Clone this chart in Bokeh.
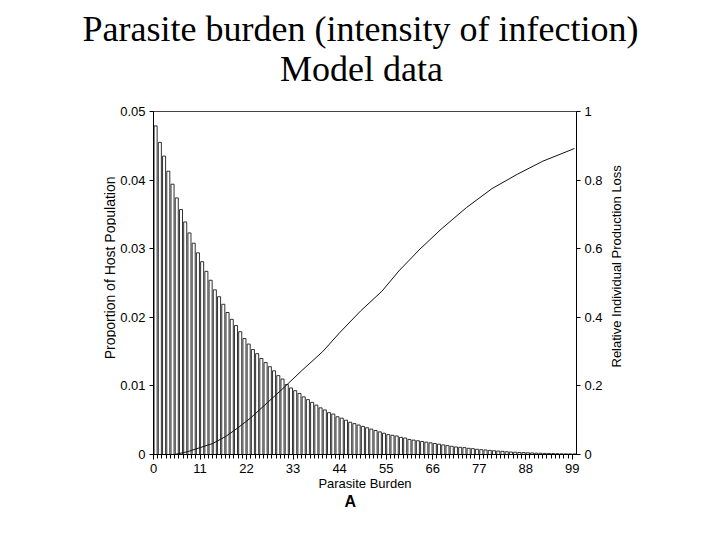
import math
from bokeh.plotting import figure
from bokeh.layouts import column, row
from bokeh.models import (Range1d, LinearAxis, FixedTicker, NumeralTickFormatter,
                          Title, ColumnDataSource)
from bokeh.core.properties import value
from bokeh.embed import file_html
from bokeh.resources import INLINE

# ---- data ----
burden = list(range(100))
proportion = [
    0.0479, 0.0455, 0.0435, 0.0413, 0.0394, 0.0374, 0.0357, 0.0339, 0.0323, 0.0308,
    0.0294, 0.0281, 0.0267, 0.0254, 0.0240, 0.0230, 0.0219, 0.0207, 0.0197, 0.0188,
    0.0179, 0.0169, 0.0161, 0.0153, 0.0147, 0.0140, 0.0134, 0.0128, 0.0122, 0.0115,
    0.0110, 0.0102, 0.0097, 0.0093, 0.0089, 0.0084, 0.0080, 0.0076, 0.0072, 0.0068,
    0.0065, 0.0061, 0.0059, 0.0055, 0.0053, 0.0050, 0.0047, 0.0045, 0.0043, 0.0041,
    0.0039, 0.0037, 0.0035, 0.0033, 0.0031, 0.0029, 0.0028, 0.0027, 0.0025, 0.0024,
    0.0022, 0.0021, 0.0020, 0.0019, 0.0018, 0.0017, 0.0016, 0.0015, 0.0014, 0.0013,
    0.0012, 0.0011, 0.00105, 0.0010, 0.0009, 0.00085, 0.00076, 0.0007, 0.00066, 0.0006,
    0.00055, 0.0005, 0.00046, 0.0004, 0.00036, 0.00033, 0.0003, 0.00028, 0.00025, 0.00023,
    0.0002, 0.00018, 0.00016, 0.00015, 0.00013, 0.00012, 0.0001, 0.0001, 0.00009, 0.00008,
]
loss_burden = [5, 8, 11, 14, 17, 20, 23, 27, 31, 35, 40, 44, 49, 54, 58, 63, 68, 74, 80, 86, 92, 99.5]
loss = [0.0, 0.008, 0.02, 0.032, 0.052, 0.078, 0.107, 0.152, 0.197, 0.244, 0.30, 0.355,
        0.419, 0.476, 0.535, 0.599, 0.657, 0.720, 0.775, 0.817, 0.855, 0.892]

x_ticks = [0, 11, 22, 33, 44, 55, 66, 77, 88, 99]
left_ticks = [0, 0.01, 0.02, 0.03, 0.04, 0.05]
right_ticks = [0, 0.2, 0.4, 0.6, 0.8, 1]

title_lines = ["Parasite burden (intensity of infection)", "Model data"]
left_label = "Proportion of Host Population"
right_label = "Relative Individual Production Loss"
x_label = "Parasite Burden"
panel_letter = "A"

SANS = "Liberation Sans"
SERIF = "Liberation Serif"


def text_panel(w, h):
    """A blank figure whose frame fills it, in pixel units (y downward)."""
    f = figure(width=w, height=h, output_backend="svg", toolbar_location=None,
               x_range=Range1d(0, w), y_range=Range1d(h, 0),
               x_axis_location=None, y_axis_location=None,
               min_border=0, min_border_left=0, min_border_right=0,
               min_border_top=0, min_border_bottom=0)
    f.title = None
    f.outline_line_color = None
    f.xgrid.visible = False
    f.ygrid.visible = False
    f.background_fill_color = "white"
    f.border_fill_color = "white"
    return f


# ---- title panel ----
tp = text_panel(712, 100)
tp.text(x=[360, 361], y=[28, 68], text=title_lines,
        text_font=value(SERIF), text_font_size="36px", text_color="black",
        text_align="center", text_baseline="middle")

# ---- left label panel ----
lp = text_panel(116, 432)
lp.text(x=[109], y=[197], text=[left_label], angle=math.pi / 2,
        text_font=value(SANS), text_font_size="14px", text_color="black",
        text_align="center", text_baseline="middle")

# ---- right label panel ----
rp = text_panel(106, 432)
rp.text(x=[10], y=[195], text=[right_label], angle=math.pi / 2,
        text_font=value(SANS), text_font_size="13px", text_color="black",
        text_align="center", text_baseline="middle")

# ---- main chart ----
p = figure(width=490, height=432, output_backend="svg", toolbar_location=None,
           x_range=Range1d(0, 100), y_range=Range1d(0, 0.05),
           min_border_left=37, min_border_right=30, min_border_top=11,
           min_border_bottom=78)
p.title = None
p.background_fill_color = "white"
p.border_fill_color = "white"
p.outline_line_color = "#444444"
p.outline_line_width = 1
p.xgrid.visible = False
p.ygrid.visible = False

p.extra_y_ranges = {"loss": Range1d(0, 1)}

src = ColumnDataSource(dict(x=[b + 0.5 for b in burden], top=proportion))
p.vbar(x="x", top="top", bottom=0, width=0.72, source=src,
       fill_color="white", line_color="#1a1a1a", line_width=0.9)

p.line(loss_burden, loss, y_range_name="loss", line_color="#111111", line_width=1)


def style_axis(ax, tick_out, label_standoff_ticks):
    ax.major_label_text_font = SANS
    ax.major_label_text_font_size = "13px"
    ax.major_label_text_color = "black"
    ax.major_label_standoff = label_standoff_ticks
    ax.major_tick_out = tick_out
    ax.major_tick_in = 0
    ax.major_tick_line_color = "black"
    ax.axis_line_color = "black"


xa = p.xaxis[0]
xa.ticker = FixedTicker(ticks=x_ticks, minor_ticks=burden)
style_axis(xa, 5, 4)
xa.axis_label = x_label
xa.axis_label_text_font = SANS
xa.axis_label_text_font_style = "normal"
xa.axis_label_text_font_size = "13px"
xa.axis_label_text_color = "black"
xa.axis_label_standoff = 0
xa.minor_tick_out = 4
xa.minor_tick_in = 0
xa.minor_tick_line_color = "black"

ya = p.yaxis[0]
ya.ticker = FixedTicker(ticks=left_ticks)
ya.formatter = NumeralTickFormatter(format="0.[00]")
style_axis(ya, 4, 4)
ya.minor_tick_out = 0
ya.minor_tick_in = 0

ra = LinearAxis(y_range_name="loss", ticker=FixedTicker(ticks=right_ticks),
                formatter=NumeralTickFormatter(format="0.[0]"))
style_axis(ra, 4, 4)
ra.minor_tick_out = 0
ra.minor_tick_in = 0
p.add_layout(ra, "right")

p.add_layout(Title(text=panel_letter, align="left", offset=191, standoff=-6,
                   text_font=SANS, text_font_style="bold", text_font_size="16px",
                   text_color="black"), "below")

layout = column(tp, row(lp, p, rp, spacing=0), spacing=0)
open("out.html", "w").write(file_html(layout, INLINE))
